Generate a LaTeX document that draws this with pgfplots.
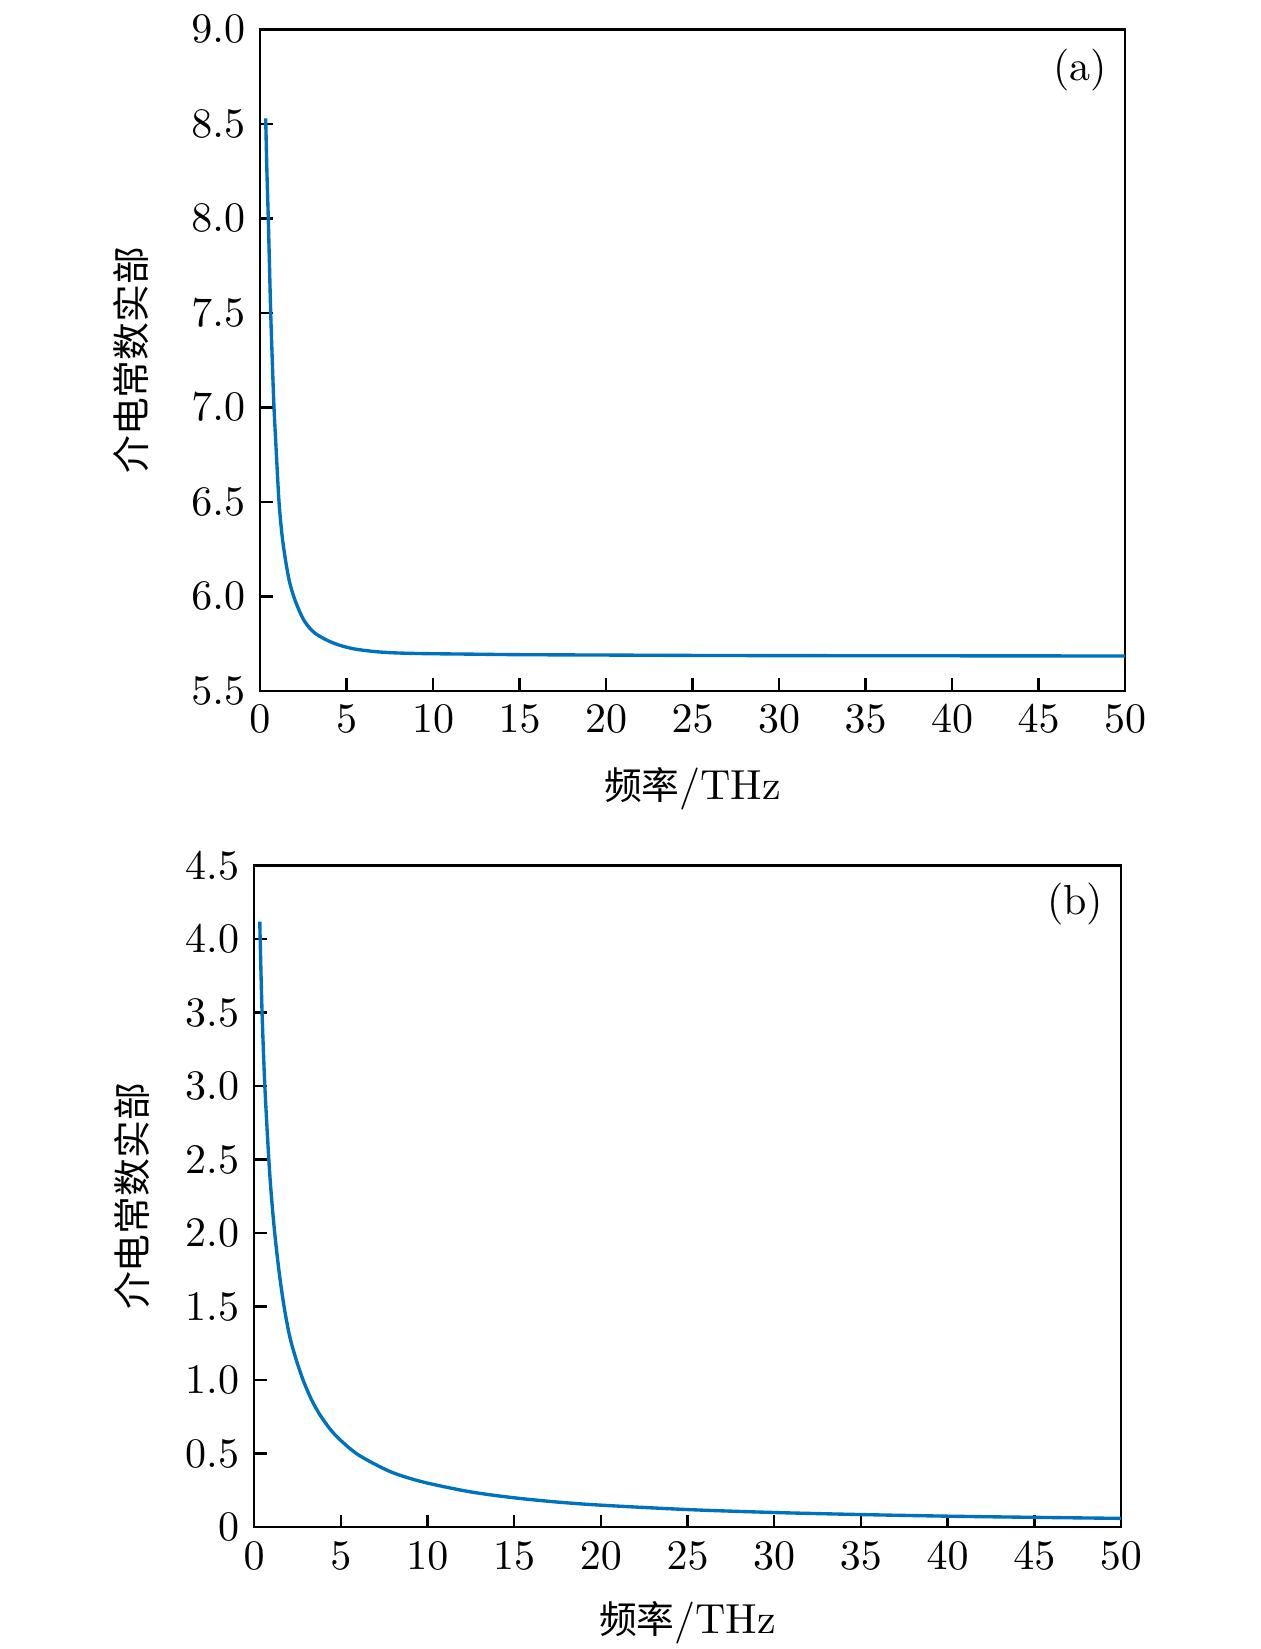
\documentclass[border=0pt]{standalone}
\usepackage{fontspec}
\usepackage{pgfplots}
\pgfplotsset{compat=1.18}
\newfontfamily\cjk{Noto Sans CJK SC}
\definecolor{cblue}{RGB}{0,114,189}
\pgfplotsset{
  myax/.style={
    scale only axis,
    anchor=south west,
    width=206pt,
    height=157.5pt,
    xmin=0, xmax=50,
    xtick={0,5,10,15,20,25,30,35,40,45,50},
    tick align=inside,
    tick pos=left,
    major tick length=3pt,
    axis line style={line width=0.6pt},
    every tick/.style={black, line width=0.6pt},
    xlabel={{\fontsize{9}{10}\cjk 频率}/THz},
    ylabel={\fontsize{9}{10}\cjk 介电常数实部},
    xlabel style={at={(axis description cs:0.5,-0.148)}, anchor=center},
    clip=false,
  }
}
\begin{document}
\begin{tikzpicture}
\path[use as bounding box] (0,0) rectangle (300pt,392.62pt);
\begin{axis}[myax,
  at={(61.9pt,228.1pt)},
  ymin=5.5, ymax=9,
  ytick={5.5,6,6.5,7,7.5,8,8.5,9},
  yticklabel style={/pgf/number format/.cd,fixed,fixed zerofill,precision=1},
  ylabel style={at={(axis description cs:-0.1486,0.5)}, anchor=center},
]
\addplot[cblue, line width=0.8pt, smooth] coordinates {
(0.33,8.53) (0.40,8.25) (0.48,8.00) (0.55,7.75) (0.62,7.50) (0.71,7.25)
(0.81,7.00) (0.95,6.75) (1.10,6.50) (1.28,6.32) (1.48,6.19) (1.70,6.08)
(1.95,6.00) (2.2,5.94) (2.5,5.88) (2.85,5.835) (3.2,5.804) (3.6,5.782)
(4.0,5.763) (4.6,5.742) (5.3,5.725) (6.0,5.715) (6.8,5.707) (7.7,5.702)
(8.7,5.699) (10,5.697) (12,5.695) (15,5.692) (20,5.690) (25,5.688)
(30,5.687) (40,5.686) (50,5.685)
};
\node at (rel axis cs:0.948,0.939) {(a)};
\end{axis}
\begin{axis}[myax,
  at={(60.5pt,29.0pt)},
  width=206.4pt,
  ymin=0, ymax=4.5,
  ytick={0,0.5,1,1.5,2,2.5,3,3.5,4,4.5},
  yticklabels={0,0.5,1.0,1.5,2.0,2.5,3.0,3.5,4.0,4.5},
  ylabel style={at={(axis description cs:-0.1413,0.5)}, anchor=center},
  xlabel style={at={(axis description cs:0.5,-0.145)}, anchor=center},
]
\addplot[cblue, line width=0.8pt, smooth] coordinates {
(0.33,4.12) (0.35,4.00) (0.46,3.50) (0.62,3.00) (0.85,2.50) (1.00,2.25)
(1.19,2.00) (1.45,1.73) (1.73,1.50) (2.05,1.30) (2.4,1.15) (2.83,1.00)
(3.3,0.87) (3.79,0.766) (4.4,0.665) (5.0,0.59) (6.0,0.493) (7.5,0.397)
(8.5,0.35) (10,0.30) (12.5,0.24) (15,0.20) (17.5,0.171) (20,0.15)
(25,0.12) (30,0.10) (35,0.086) (40,0.075) (45,0.067) (50,0.06)
};
\node at (rel axis cs:0.947,0.942) {(b)};
\end{axis}
\end{tikzpicture}
\end{document}
